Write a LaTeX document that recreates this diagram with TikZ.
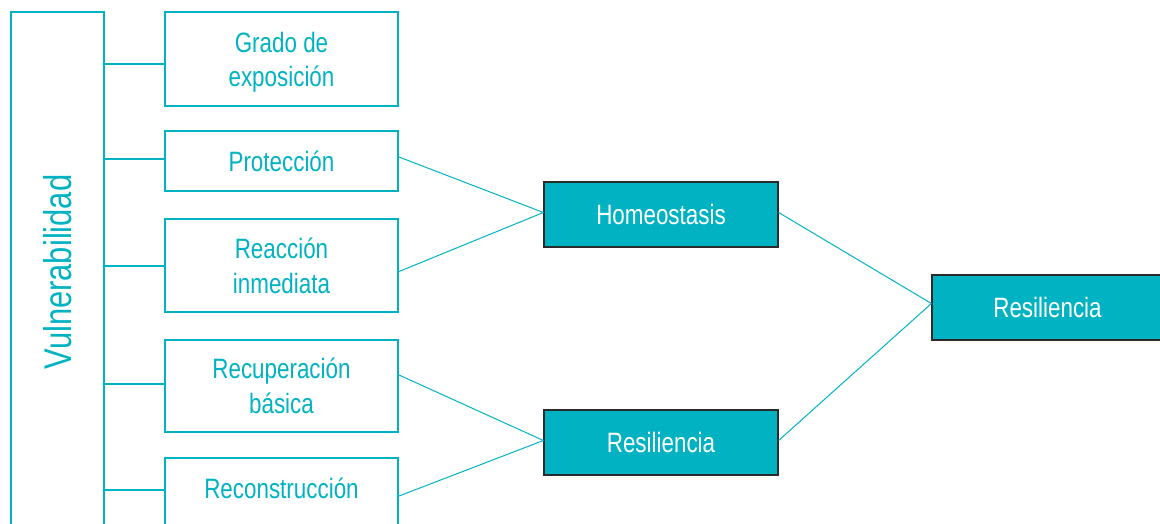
\documentclass[tikz,border=0pt]{standalone}
\usepackage{fontspec}
\setmainfont{Liberation Sans}[FakeStretch=0.80]
\usetikzlibrary{calc}
\definecolor{teal1}{HTML}{00B2C2}
\definecolor{edge1}{HTML}{2A2A2A}
\tikzset{
  obox/.style={draw=teal1, line width=1.5pt, text=teal1, align=center, inner sep=0pt,
    minimum width=174.75pt, font=\fontsize{21}{26}\selectfont},
  fbox/.style={draw=edge1, line width=0.9pt, fill=teal1, text=white, align=center, inner sep=0pt,
    minimum height=48.75pt, font=\fontsize{21}{26}\selectfont},
  conn/.style={draw=teal1, line width=0.75pt},
  branch/.style={draw=teal1, line width=1.5pt}
}
\begin{document}
\begin{tikzpicture}[x=0.75pt,y=-0.75pt]
\useasboundingbox (0,0) rectangle (1160,524);
\clip (0,0) rectangle (1160,524);
% left tall box
\node[draw=teal1, line width=1.5pt, minimum width=69.75pt, minimum height=390pt, inner sep=0pt] (vuln) at (57.5,272) {};
\node[text=teal1, rotate=90, font=\fontsize{29}{34}\selectfont] (vulntext) at (58,272) {Vulnerabilidad};
% second column
\node[obox, minimum height=70.5pt] (b1) at (281.5,59) {\rule{0pt}{20pt}Grado de\\exposición};
\node[obox, minimum height=45pt] (b2) at (281.5,161) {Protección};
\node[obox, minimum height=69.75pt] (b3) at (281.5,265.5) {Reacción\\inmediata};
\node[obox, minimum height=69pt] (b4) at (281.5,386) {Recuperación\\básica};
\node[obox, minimum height=51pt] (b5) at (281.5,492) {Reconstrucción\rule[-6pt]{0pt}{6pt}};
% third column
\node[fbox, minimum width=175.5pt] (homeo) at (661,214.5) {Homeostasis};
\node[fbox, minimum width=175.5pt] (resmid) at (661,442.5) {Resiliencia};
% right
\node[fbox, minimum width=173.25pt] (resright) at (1047.5,307.5) {Resiliencia};
% branches
\draw[branch] ($(b1.west)+(0,5)$) -- ($(b1.west -| vuln.east)+(0,5)$);
\draw[branch] ($(b2.west)+(0,-2)$) -- ($(b2.west -| vuln.east)+(0,-2)$);
\draw[branch] (b3.west) -- (b3.west -| vuln.east);
\draw[branch] ($(b4.west)+(0,-2)$) -- ($(b4.west -| vuln.east)+(0,-2)$);
\draw[branch] ($(b5.west)+(0,-2)$) -- ($(b5.west -| vuln.east)+(0,-2)$);
% connectors
\draw[conn] ($(b2.east)+(0,-4)$) -- ($(homeo.west)+(0,-2)$);
\draw[conn] ($(b3.east)+(0,6)$) -- ($(homeo.west)+(0,-2)$);
\draw[conn] ($(b4.east)+(0,-11)$) -- ($(resmid.west)+(0,-2)$);
\draw[conn] ($(b5.east)+(0,4)$) -- ($(resmid.west)+(0,-2)$);
\draw[conn] ($(homeo.east)+(0,-2)$) -- ($(resright.west)+(0,-4)$);
\draw[conn] ($(resmid.east)+(0,-2)$) -- ($(resright.west)+(0,-4)$);
\end{tikzpicture}
\end{document}
